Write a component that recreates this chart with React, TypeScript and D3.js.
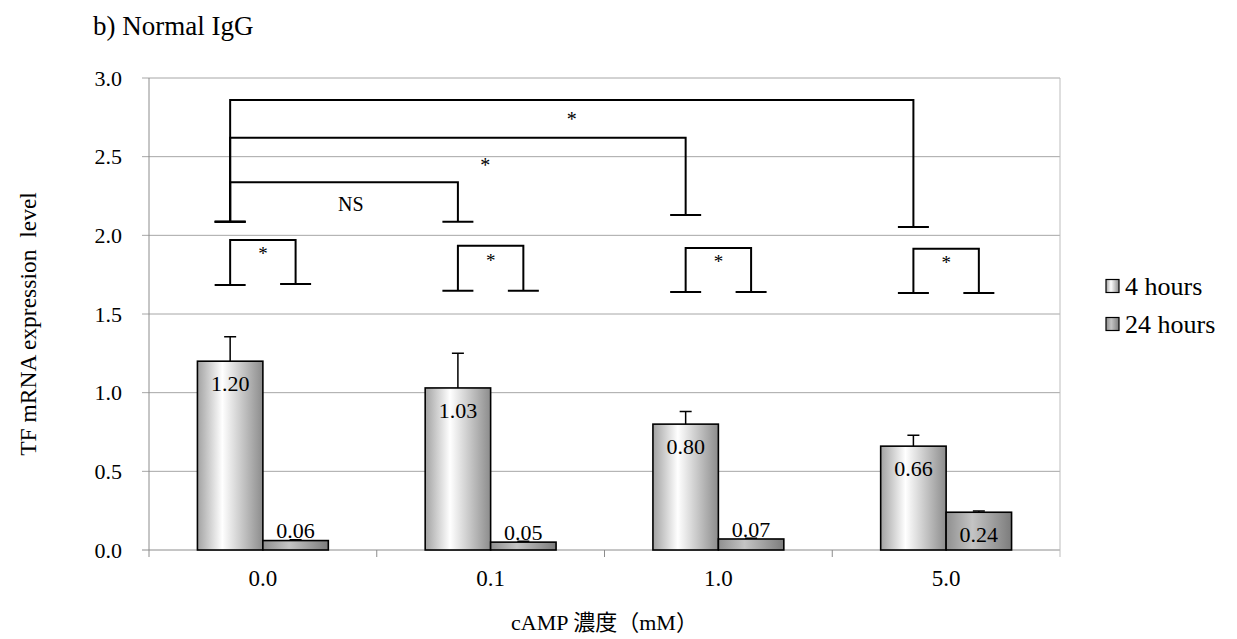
import React, { useEffect, useRef } from "react";
import * as d3 from "d3";

const categories = ["0.0", "0.1", "1.0", "5.0"];
const seriesNames = ["4 hours", "24 hours"];
const hours4 = [1.2, 1.03, 0.8, 0.66];
const hours24 = [0.06, 0.05, 0.07, 0.24];
const err4 = [0.155, 0.22, 0.08, 0.07];
const err24 = [0.005, 0.005, 0.005, 0.008];
const yTicks = [0, 0.5, 1.0, 1.5, 2.0, 2.5, 3.0];

// 4h vs 24h inside each concentration
const withinBrackets = [
  { cat: 0, leftFoot: 1.685, rightFoot: 1.69, top: 1.97, label: "*", labelY: 1.9 },
  { cat: 1, leftFoot: 1.647, rightFoot: 1.647, top: 1.933, label: "*", labelY: 1.856 },
  { cat: 2, leftFoot: 1.64, rightFoot: 1.64, top: 1.92, label: "*", labelY: 1.85 },
  { cat: 3, leftFoot: 1.634, rightFoot: 1.634, top: 1.914, label: "*", labelY: 1.844 },
];

// 4h at 0.0 mM vs 4h at the other concentrations
const betweenBrackets = [
  { to: 1, leftFoot: 2.087, rightFoot: 2.087, top: 2.338, label: "NS", at: 0.53, labelY: 2.2 },
  { to: 2, leftFoot: 2.087, rightFoot: 2.13, top: 2.62, label: "*", at: 0.56, labelY: 2.46 },
  { to: 3, leftFoot: 2.087, rightFoot: 2.053, top: 2.86, label: "*", at: 0.5, labelY: 2.753 },
];

const FONT = "'Liberation Serif', 'Times New Roman', 'Noto Sans CJK JP', serif";

export default function App() {
  const ref = useRef<SVGSVGElement>(null);

  useEffect(() => {
    const width = 1237;
    const height = 639;
    const margin = { top: 78, right: 177, bottom: 89, left: 149 };

    const svg = d3.select(ref.current);
    svg.selectAll("*").remove();

    const defs = svg.append("defs");
    const g4 = defs.append("linearGradient").attr("id", "grad4").attr("x1", "0").attr("x2", "1").attr("y1", "0").attr("y2", "0");
    g4.append("stop").attr("offset", "0%").attr("stop-color", "#a2a2a2");
    g4.append("stop").attr("offset", "38%").attr("stop-color", "#ffffff");
    g4.append("stop").attr("offset", "100%").attr("stop-color", "#8c8c8c");
    const g24 = defs.append("linearGradient").attr("id", "grad24").attr("x1", "0").attr("x2", "1").attr("y1", "0").attr("y2", "0");
    g24.append("stop").attr("offset", "0%").attr("stop-color", "#8f8f8f");
    g24.append("stop").attr("offset", "40%").attr("stop-color", "#c4c4c4");
    g24.append("stop").attr("offset", "100%").attr("stop-color", "#7c7c7c");
    const fills = ["url(#grad4)", "url(#grad24)"];

    const x0 = d3.scaleBand().domain(categories).range([margin.left, width - margin.right]).padding(0);
    const x1 = d3.scaleBand().domain(seriesNames).range([0, x0.bandwidth()]).paddingInner(0).paddingOuter(0.74);
    const y = d3.scaleLinear().domain([0, 3]).range([height - margin.bottom, margin.top]);

    const left = margin.left;
    const right = width - margin.right;
    const base = y(0);

    // gridlines + y ticks
    svg.append("g").selectAll("line").data(yTicks).enter().append("line")
      .attr("x1", left - 7).attr("x2", right)
      .attr("y1", (d) => y(d)).attr("y2", (d) => y(d))
      .attr("stroke", (d) => (d === 0 ? "#8c8c8c" : "#a6a6a6")).attr("stroke-width", 1);

    svg.append("line").attr("x1", left).attr("x2", left).attr("y1", y(3)).attr("y2", base + 7)
      .attr("stroke", "#8c8c8c");
    svg.append("line").attr("x1", right).attr("x2", right).attr("y1", y(3)).attr("y2", base + 7)
      .attr("stroke", "#bdbdbd");

    // x ticks at band edges
    const edges = categories.map((c) => x0(c) as number);
    svg.append("g").selectAll("line").data(edges.slice(1)).enter().append("line")
      .attr("x1", (d) => d).attr("x2", (d) => d).attr("y1", base).attr("y2", base + 7)
      .attr("stroke", "#8c8c8c");

    svg.append("g").selectAll("text").data(yTicks).enter().append("text")
      .attr("x", left - 27).attr("y", (d) => y(d)).attr("dy", "0.35em")
      .attr("text-anchor", "end").attr("font-family", FONT).attr("font-size", 22)
      .text((d) => d3.format(".1f")(d));

    svg.append("g").selectAll("text").data(categories).enter().append("text")
      .attr("x", (d) => (x0(d) as number) + x0.bandwidth() / 2).attr("y", base + 28).attr("dy", "0.35em")
      .attr("text-anchor", "middle").attr("font-family", FONT).attr("font-size", 23)
      .text((d) => d);

    // bars
    const rows = categories.map((c, i) => [
      { c, s: seriesNames[0], v: hours4[i], e: err4[i], k: 0 },
      { c, s: seriesNames[1], v: hours24[i], e: err24[i], k: 1 },
    ]).flat();

    const bx = (d: any) => (x0(d.c) as number) + (x1(d.s) as number);
    const bw = x1.bandwidth();

    // error bars
    svg.append("g").selectAll("g").data(rows).enter().append("path")
      .attr("d", (d) => {
        const cx = bx(d) + bw / 2;
        return `M${cx},${y(d.v)}V${y(d.v + d.e)}M${cx - 6},${y(d.v + d.e)}H${cx + 6}`;
      })
      .attr("stroke", "#000").attr("stroke-width", 1.5).attr("fill", "none");

    svg.append("g").selectAll("rect").data(rows).enter().append("rect")
      .attr("x", bx).attr("width", bw)
      .attr("y", (d) => y(d.v)).attr("height", (d) => base - y(d.v))
      .attr("fill", (d) => fills[d.k]).attr("stroke", "#000").attr("stroke-width", 1.6);

    svg.append("g").selectAll("text").data(rows).enter().append("text")
      .attr("x", (d) => bx(d) + bw / 2)
      .attr("y", (d) => (base - y(d.v) > 30 ? y(d.v) + 22 : y(d.v) - 10)).attr("dy", "0.35em")
      .attr("text-anchor", "middle").attr("font-family", FONT).attr("font-size", 22)
      .text((d) => d3.format(".2f")(d.v));

    // significance brackets
    const center = (cat: number, k: number) => (x0(categories[cat]) as number) + (x1(seriesNames[k]) as number) + bw / 2;
    const foot = 15.5;
    const sig = svg.append("g").attr("stroke", "#000").attr("stroke-width", 2).attr("fill", "none");

    const drawBracket = (xa: number, xb: number, fa: number, fb: number, top: number) => {
      sig.append("path").attr("d",
        `M${xa - foot},${y(fa)}H${xa + foot}M${xa},${y(fa)}V${y(top)}H${xb}V${y(fb)}M${xb - foot},${y(fb)}H${xb + foot}`);
    };

    withinBrackets.forEach((b) => {
      const xa = center(b.cat, 0);
      const xb = center(b.cat, 1);
      drawBracket(xa, xb, b.leftFoot, b.rightFoot, b.top);
      svg.append("text").attr("x", (xa + xb) / 2).attr("y", y(b.labelY) + 9)
        .attr("text-anchor", "middle").attr("font-family", FONT).attr("font-size", 19).text(b.label);
    });

    betweenBrackets.forEach((b) => {
      const xa = center(0, 0);
      const xb = center(b.to, 0);
      drawBracket(xa, xb, b.leftFoot, b.rightFoot, b.top);
      svg.append("text").attr("x", xa + (xb - xa) * b.at).attr("y", y(b.labelY) + (b.label === "*" ? 9 : 7))
        .attr("text-anchor", "middle").attr("font-family", FONT).attr("font-size", 20).text(b.label);
    });

    // legend
    const legend = svg.append("g").selectAll("g").data(seriesNames).enter().append("g")
      .attr("transform", (_, i) => `translate(${right + 46},${286 + i * 38})`);
    legend.append("rect").attr("x", 0).attr("y", -6.5).attr("width", 13).attr("height", 13)
      .attr("fill", (_, i) => fills[i]).attr("stroke", "#000").attr("stroke-width", 1.2);
    legend.append("text").attr("x", 19).attr("y", 0).attr("dy", "0.35em")
      .attr("font-family", FONT).attr("font-size", 26).text((d) => d);

    // titles
    svg.append("text").attr("x", 93).attr("y", 26).attr("dy", "0.35em")
      .attr("font-family", FONT).attr("font-size", 27).text("b) Normal IgG");

    svg.append("text").attr("transform", `translate(28,${(y(0) + y(3)) / 2 + 10}) rotate(-90)`)
      .attr("text-anchor", "middle").attr("dy", "0.35em")
      .attr("font-family", FONT).attr("font-size", 23.5).attr("xml:space", "preserve")
      .text("TF mRNA expression  level");

    svg.append("text").attr("x", (left + right) / 2).attr("y", 622).attr("dy", "0.35em")
      .attr("text-anchor", "middle").attr("font-family", FONT).attr("font-size", 22)
      .text("cAMP 濃度（mM）");
  }, []);

  return (
    <svg ref={ref} width={1237} height={639}
      style={{ position: "absolute", left: 0, top: 0, background: "#fff", display: "block" }} />
  );
}
